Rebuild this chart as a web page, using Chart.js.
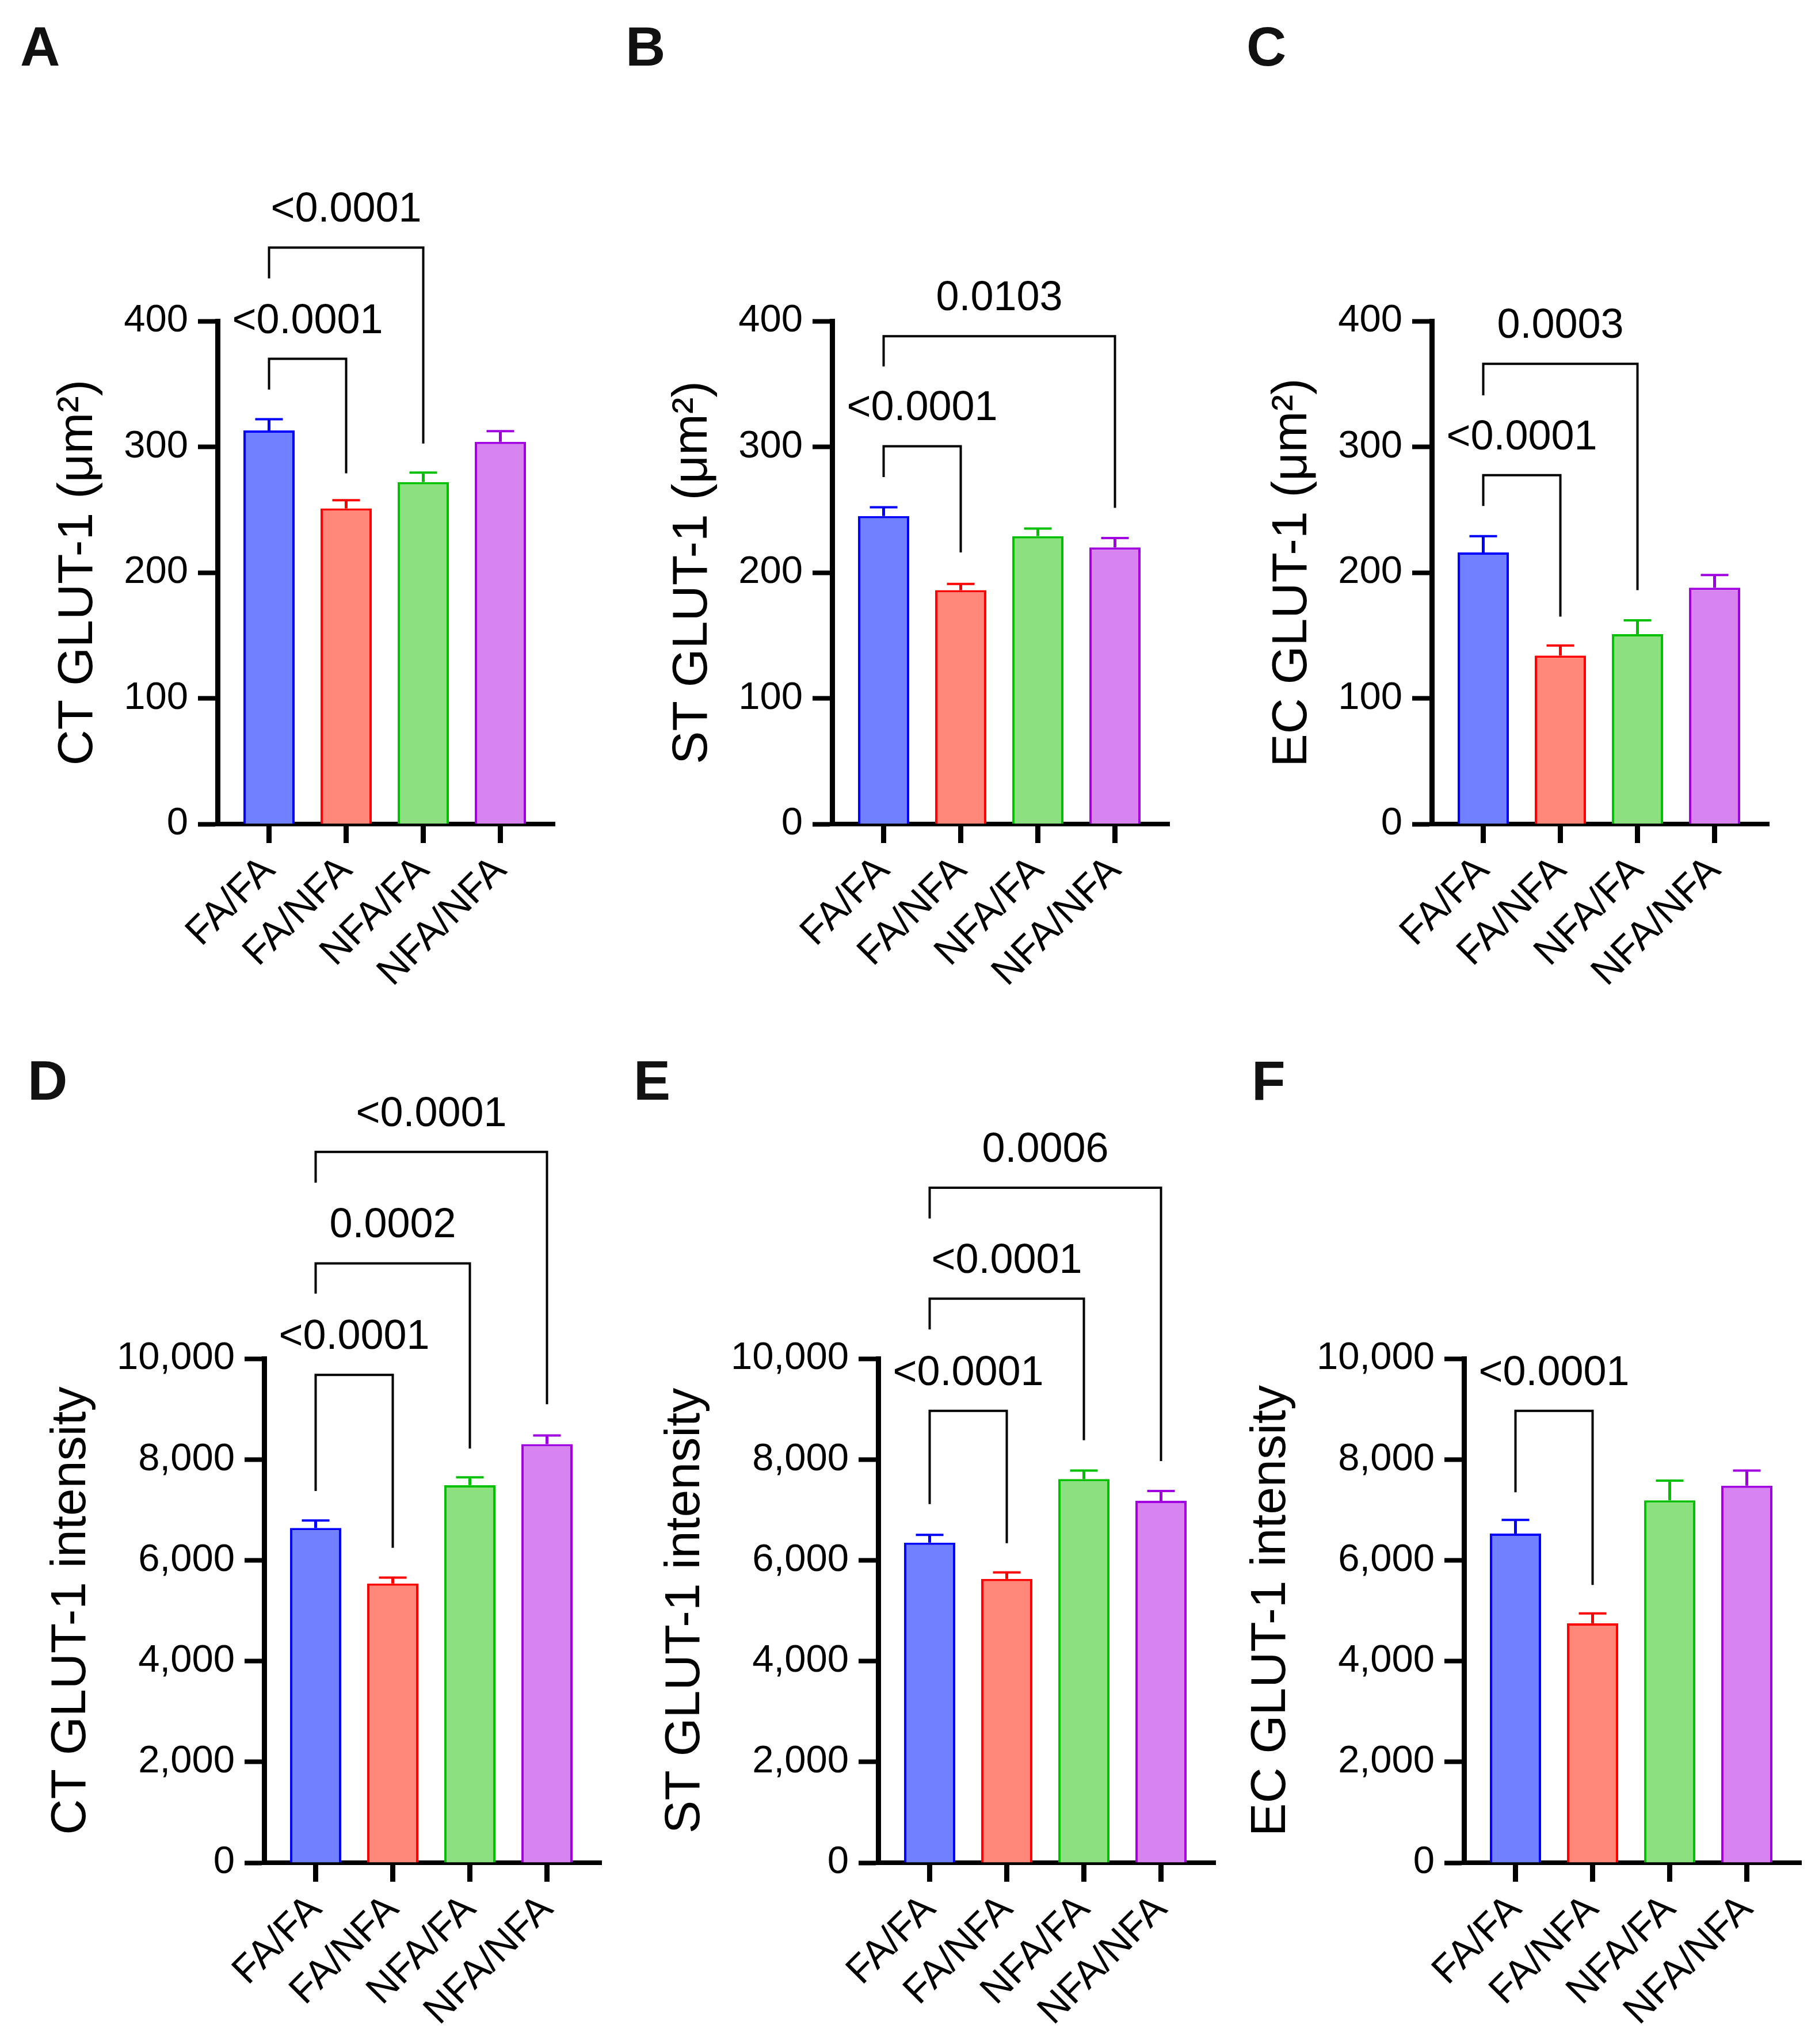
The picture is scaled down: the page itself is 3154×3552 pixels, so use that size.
<!DOCTYPE html>
<html><head><meta charset="utf-8">
<script src="https://cdn.jsdelivr.net/npm/chart.js@4.4.0/dist/chart.umd.min.js"></script>
<style>
html,body{margin:0;padding:0;background:#fff;}
body{width:3154px;height:3552px;position:relative;overflow:hidden;font-family:"Liberation Sans",Arial,sans-serif;}
.lbl{position:absolute;font-weight:bold;font-size:96px;line-height:96px;color:#111;}
canvas{position:absolute;}
</style></head><body>
<div class="lbl" style="left:35px;top:33px">A</div>
<div class="lbl" style="left:1087px;top:33px">B</div>
<div class="lbl" style="left:2166px;top:33px">C</div>
<div class="lbl" style="left:48px;top:1830px">D</div>
<div class="lbl" style="left:1101px;top:1830px">E</div>
<div class="lbl" style="left:2175px;top:1830px">F</div>
<canvas id="cA" width="1086" height="1776" style="left:-22px;top:0px"></canvas>
<canvas id="cB" width="1086" height="1776" style="left:1046px;top:0px"></canvas>
<canvas id="cC" width="1086" height="1776" style="left:2088px;top:0px"></canvas>
<canvas id="cD" width="1166" height="1776" style="left:-21px;top:1776px"></canvas>
<canvas id="cE" width="1166" height="1776" style="left:1046px;top:1776px"></canvas>
<canvas id="cF" width="1166" height="1776" style="left:2064px;top:1776px"></canvas>
<script>
// ---- data ----
const categories = ['FA/FA', 'FA/NFA', 'NFA/FA', 'NFA/NFA'];

const ctAreaMean = [313, 251, 272, 304];
const ctAreaErr  = [9, 6.5, 7.5, 8.5];
const stAreaMean = [245, 186, 229, 220];
const stAreaErr  = [7, 5, 6, 7.5];
const ecAreaMean = [216, 134, 151, 188];
const ecAreaErr  = [13, 8, 11, 10];

const ctIntMean = [6640, 5540, 7490, 8305];
const ctIntErr  = [150, 115, 155, 170];
const stIntMean = [6350, 5630, 7610, 7180];
const stIntErr  = [155, 130, 170, 195];
const ecIntMean = [6530, 4750, 7190, 7480];
const ecIntErr  = [270, 195, 390, 300];

const areaTicks = [0, 100, 200, 300, 400];
const intensityTicks = [0, 2000, 4000, 6000, 8000, 10000];

// brackets: [from index, to index, p-value text, bracket level, left leg end, right leg end]
const ctAreaBrackets = [[0, 1, '<0.0001', 370, 345.5, 279], [0, 2, '<0.0001', 458.5, 434, 302.6]];
const stAreaBrackets = [[0, 1, '<0.0001', 300.5, 276, 216], [0, 3, '0.0103', 388, 364, 251.5]];
const ecAreaBrackets = [[0, 1, '<0.0001', 277.5, 253, 165], [0, 2, '0.0003', 366, 341, 186]];
const ctIntBrackets = [[0, 1, '<0.0001', 9677, 7374, 6248], [0, 2, '0.0002', 11890, 11290, 8215], [0, 3, '<0.0001', 14100, 13490, 9094]];
const stIntBrackets = [[0, 1, '<0.0001', 8965, 7115, 6339], [0, 2, '<0.0001', 11190, 10580, 8383], [0, 3, '0.0006', 13390, 12780, 7969]];
const ecIntBrackets = [[0, 1, '<0.0001', 8965, 7348, 5511]];

// ---- style ----
const FONT = '"Liberation Sans", Arial, sans-serif';
const fills = ['#7080ff', '#ff887a', '#8ce080', '#d884f0'];
const strokes = ['#0000ff', '#ff0000', '#00c000', '#a000e0'];

function makePanel(id, o) {
  const annot = {
    id: 'annot',
    afterDatasetsDraw(chart) {
      const ctx = chart.ctx, xs = chart.scales.x, ys = chart.scales.y;
      ctx.save();
      ctx.lineCap = 'butt';
      o.mean.forEach((m, i) => {
        const x = xs.getPixelForValue(i + 1);
        const yb = ys.getPixelForValue(m), yt = ys.getPixelForValue(m + o.err[i]);
        ctx.strokeStyle = strokes[i];
        ctx.lineWidth = 5;
        ctx.beginPath(); ctx.moveTo(x, yb); ctx.lineTo(x, yt); ctx.stroke();
        ctx.lineWidth = 4;
        ctx.beginPath(); ctx.moveTo(x - 24, yt); ctx.lineTo(x + 24, yt); ctx.stroke();
      });
      ctx.strokeStyle = '#000'; ctx.fillStyle = '#000'; ctx.lineWidth = 4;
      ctx.lineJoin = 'miter';
      ctx.font = '72px ' + FONT;
      ctx.textAlign = 'center'; ctx.textBaseline = 'alphabetic';
      o.brackets.forEach(([a, b, text, level, la, lb]) => {
        const xa = xs.getPixelForValue(a + 1), xb = xs.getPixelForValue(b + 1);
        const y = ys.getPixelForValue(level);
        ctx.beginPath();
        ctx.moveTo(xa, ys.getPixelForValue(la));
        ctx.lineTo(xa, y); ctx.lineTo(xb, y);
        ctx.lineTo(xb, ys.getPixelForValue(lb));
        ctx.stroke();
        ctx.fillText(text, (xa + xb) / 2, y - 45);
      });
      ctx.restore();
    }
  };
  new Chart(document.getElementById(id), {
    type: 'bar',
    data: {
      datasets: [{
        data: o.mean.map((v, i) => ({ x: i + 1, y: v })),
        backgroundColor: fills, borderColor: strokes, borderWidth: 4,
        categoryPercentage: 1, barPercentage: 0.664
      }]
    },
    options: {
      responsive: false, animation: false,
      layout: { padding: { top: o.padTop, left: 0, right: 100, bottom: 10 } },
      plugins: { legend: { display: false }, tooltip: { enabled: false } },
      scales: {
        x: {
          type: 'linear', min: 0.332, max: 4.705, offset: false,
          afterBuildTicks: s => { s.ticks = categories.map((c, i) => ({ value: i + 1 })); },
          afterFit: s => { s.height = o.xH; },
          grid: { display: true, drawOnChartArea: false, drawTicks: true, tickLength: 33, tickWidth: 9, tickColor: '#000', offset: false },
          border: { display: true, width: 8, color: '#000' },
          ticks: { autoSkip: false, maxRotation: 45, minRotation: 45, padding: 8, color: '#000',
                   font: { size: 68, family: FONT },
                   callback: v => categories[Math.round(v) - 1] || '' }
        },
        y: {
          min: 0, max: o.ticks[o.ticks.length - 1],
          afterBuildTicks: s => { s.ticks = o.ticks.map(v => ({ value: v })); },
          afterFit: s => { s.width = o.yW; },
          ticks: { padding: 17, color: '#000', font: { size: 67, family: FONT },
                   callback: v => v.toLocaleString('en-US') },
          grid: { display: true, drawOnChartArea: false, drawTicks: true, tickLength: 34, tickWidth: 8, tickColor: '#000' },
          border: { display: true, width: 9, color: '#000' },
          title: { display: true, text: o.title, color: '#000', font: { size: 86, family: FONT },
                   padding: { top: o.titlePad, bottom: 0 } }
        }
      }
    },
    plugins: [annot]
  });
}

const topRow = { padTop: 558, xH: 334, yW: 400, titlePad: 107, ticks: areaTicks };
const botRow = { padTop: 585, xH: 305, yW: 480, titlePad: 94, ticks: intensityTicks };

makePanel('cA', Object.assign({}, topRow, { mean: ctAreaMean, err: ctAreaErr, brackets: ctAreaBrackets, title: 'CT GLUT-1 (μm²)' }));
makePanel('cB', Object.assign({}, topRow, { mean: stAreaMean, err: stAreaErr, brackets: stAreaBrackets, title: 'ST GLUT-1 (μm²)' }));
makePanel('cC', Object.assign({}, topRow, { mean: ecAreaMean, err: ecAreaErr, brackets: ecAreaBrackets, title: 'EC GLUT-1 (μm²)' }));
makePanel('cD', Object.assign({}, botRow, { mean: ctIntMean, err: ctIntErr, brackets: ctIntBrackets, title: 'CT GLUT-1 intensity' }));
makePanel('cE', Object.assign({}, botRow, { mean: stIntMean, err: stIntErr, brackets: stIntBrackets, title: 'ST GLUT-1 intensity' }));
makePanel('cF', Object.assign({}, botRow, { mean: ecIntMean, err: ecIntErr, brackets: ecIntBrackets, title: 'EC GLUT-1 intensity' }));
</script>
</body></html>
